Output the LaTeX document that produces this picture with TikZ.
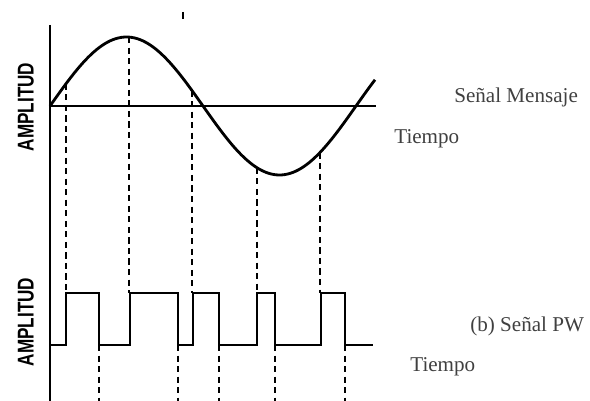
\documentclass[tikz,border=0pt]{standalone}
\usepackage{fontspec}
\setmainfont{Liberation Serif}
\newfontfamily\axisfont{Liberation Sans}
\tikzset{
  signal/.style = {line width=1.6pt, line join=miter},
  guide/.style = {line width=0.8pt, dash pattern=on 3.5pt off 2.5pt},
  caption/.style = {font=\fontsize{12}{14}\selectfont, text=black!75, inner sep=0pt},
  ylabel/.style = {font=\axisfont\bfseries\fontsize{13}{15}\selectfont, rotate=90, inner sep=0pt}
}
\begin{document}
\begin{tikzpicture}[x=0.02cm,y=-0.02cm]
  \useasboundingbox (0,0) rectangle (590,401);
  \pgfmathsetmacro{\zero}{106};
  \pgfmathsetmacro{\amp}{69};
  \pgfmathsetmacro{\period}{306};
  \pgfmathsetmacro{\high}{293};
  \pgfmathsetmacro{\low}{345};
  % axes
  \draw[line width=1pt] (50,25) coordinate (T) -- (50,401) coordinate (B);
  \draw[line width=1pt] (50,\zero) coordinate (O) -- (376,\zero) coordinate (E);
  \draw[line width=1.2pt] (183,12) -- (183,19);
  % message signal
  \draw[signal] plot[domain=50:375,samples=120] (\x,{\zero-\amp*sin((\x-50)/\period*360)});
  % rising edges from the samples
  \foreach \xs in {66,129,192,257,320} {
    \pgfmathsetmacro{\ys}{\zero-\amp*sin((\xs-50)/\period*360)}
    \draw[guide] (\xs,\ys) -- (\xs,\high);
  }
  % falling edges
  \foreach \xs in {99,178,219,275,345} {
    \draw[guide] (\xs,\low) -- (\xs,401);
  }
  % pwm signal
  \draw[signal] (50,\low)
    -| (66,\high) -| (99,\low)
    -| (130,\high) -| (178,\low)
    -| (193,\high) -| (219,\low)
    -| (257,\high) -| (275,\low)
    -| (321,\high) -| (345,\low)
    -- (373,\low);
  % labels
  \node[ylabel] (amp1) at (26,107) {\scalebox{0.75}[1]{AMPLITUD}};
  \node[ylabel] (amp2) at (26,322) {\scalebox{0.75}[1]{AMPLITUD}};
  \node[caption,anchor=west] (msg) at (454,97) {Señal Mensaje};
  \node[caption,anchor=west] (t1) at (394,139) {Tiempo};
  \node[caption,anchor=west] (pwm) at (470,326) {(b) Señal PW};
  \node[caption,anchor=west] (t2) at (410,367) {Tiempo};
\end{tikzpicture}
\end{document}
